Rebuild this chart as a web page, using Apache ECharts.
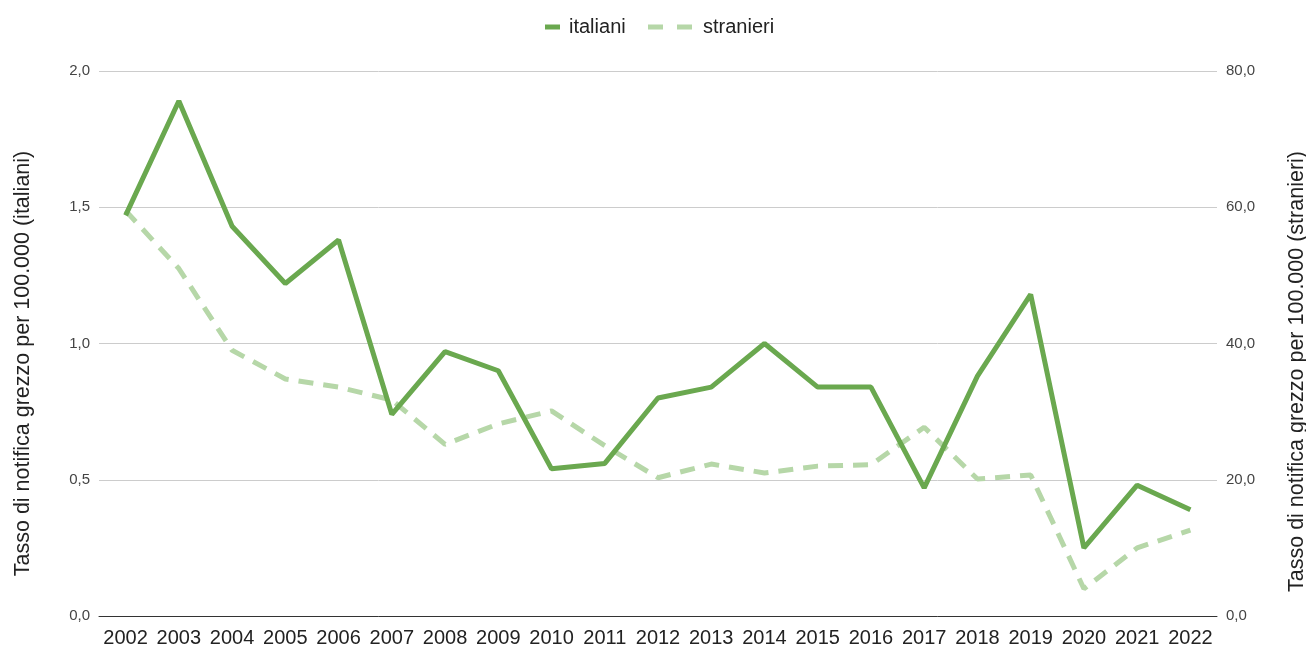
<!DOCTYPE html>
<html>
<head>
<meta charset="utf-8">
<script src="https://cdn.jsdelivr.net/npm/echarts@6/dist/echarts.min.js"></script>
<style>
  html, body { margin: 0; padding: 0; background: #fff; }
  #main { width: 1306px; height: 648px; }
</style>
</head>
<body>
<div id="main"></div>
<script>
var anni = ['2002', '2003', '2004', '2005', '2006', '2007', '2008', '2009', '2010', '2011', '2012',
    '2013', '2014', '2015', '2016', '2017', '2018', '2019', '2020', '2021', '2022'];
var italiani = [1.47, 1.89, 1.43, 1.22, 1.38, 0.74, 0.97, 0.90, 0.54, 0.56, 0.80,
    0.84, 1.00, 0.84, 0.84, 0.47, 0.88, 1.18, 0.25, 0.48, 0.39];
var stranieri = [59.5, 51.0, 39.0, 34.8, 33.6, 31.7, 25.2, 28.2, 30.1, 25.0, 20.3,
    22.3, 21.0, 22.0, 22.2, 27.7, 20.1, 20.7, 4.0, 10.0, 12.6];

var myChart = echarts.init(document.getElementById('main'));

function virgola(d) {
    return function (v) {
        return v.toFixed(d).replace('.', ',');
    };
}

var option = {
    animation: false,
    textStyle: { fontFamily: '"Liberation Sans", Arial, sans-serif' },
    legend: [
        {
            top: 12,
            left: 540,
            itemWidth: 15,
            itemHeight: 5,
            textStyle: { fontSize: 20, color: '#222', padding: [0, 0, 0, 4] },
            data: [{ name: 'italiani', icon: 'rect' }]
        },
        {
            top: 12,
            left: 643,
            itemWidth: 44,
            itemHeight: 5,
            textStyle: { fontSize: 20, color: '#222', padding: [0, 0, 0, 6] },
            data: [{ name: 'stranieri', icon: 'path://M0,0 L15,0 L15,5 L0,5 Z M29,0 L44,0 L44,5 L29,5 Z' }]
        }
    ],
    grid: { left: 99, right: 89, top: 71, bottom: 32, outerBoundsMode: 'none', containLabel: false },
    xAxis: [{
        type: 'category',
        data: anni,
        boundaryGap: true,
        axisLine: { lineStyle: { color: '#333', width: 1 } },
        axisTick: { show: false },
        axisLabel: { fontSize: 20, color: '#222', margin: 12, interval: 0 }
    }],
    yAxis: [
        {
            type: 'value',
            min: 0, max: 2, interval: 0.5,
            name: 'Tasso di notifica grezzo per 100.000 (italiani)',
            nameLocation: 'middle',
            nameGap: 65,
            nameTextStyle: { fontSize: 21.5, color: '#222', padding: [0, 40, 0, 0] },
            axisLabel: { formatter: virgola(1), fontSize: 15, color: '#444', margin: 9 },
            splitLine: { lineStyle: { color: '#ccc' } }
        },
        {
            type: 'value',
            min: 0, max: 80, interval: 20,
            name: 'Tasso di notifica grezzo per 100.000 (stranieri)',
            nameLocation: 'middle',
            nameGap: 69,
            nameRotate: 90,
            nameTextStyle: { fontSize: 21.5, color: '#222', padding: [0, 56, 0, 0] },
            axisLabel: { formatter: virgola(1), fontSize: 15, color: '#444', margin: 9 },
            splitLine: { show: false }
        }
    ],
    series: [
        {
            name: 'italiani',
            type: 'line',
            yAxisIndex: 0,
            data: italiani,
            symbol: 'none',
            lineStyle: { color: '#6aa84f', width: 5 },
            itemStyle: { color: '#6aa84f' },
            z: 3
        },
        {
            name: 'stranieri',
            type: 'line',
            yAxisIndex: 1,
            data: stranieri,
            symbol: 'none',
            lineStyle: { color: '#b6d7a8', width: 5, type: [15, 10] },
            itemStyle: { color: '#b6d7a8' },
            z: 2
        }
    ]
};
myChart.setOption(option);
</script>
</body>
</html>
